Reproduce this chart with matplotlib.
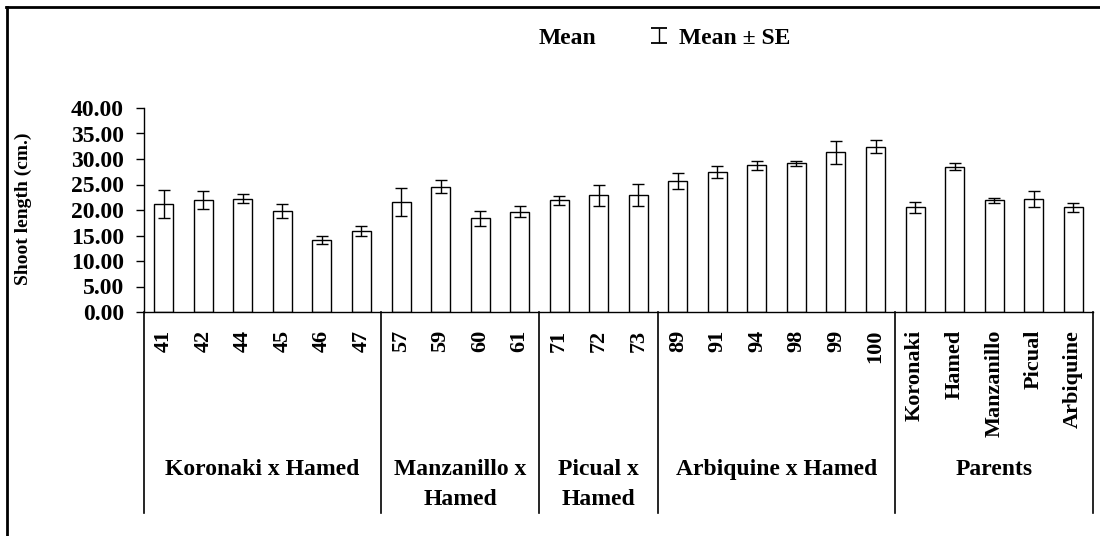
import matplotlib
matplotlib.use("Agg")
import numpy as np
import matplotlib.pyplot as plt
from matplotlib.lines import Line2D
from matplotlib.patches import Patch
from matplotlib.legend_handler import HandlerErrorbar
from matplotlib.container import ErrorbarContainer
import matplotlib.transforms as mtransforms

# ---------------- data ----------------
categories = ["41", "42", "44", "45", "46", "47",
              "57", "59", "60", "61",
              "71", "72", "73",
              "89", "91", "94", "98", "99", "100",
              "Koronaki", "Hamed", "Manzanillo", "Picual", "Arbiquine"]
means = [21.2, 21.9, 22.2, 19.8, 14.2, 15.9,
         21.5, 24.6, 18.4, 19.7,
         21.9, 22.9, 22.9,
         25.7, 27.45, 28.8, 29.2, 31.3, 32.4,
         20.5, 28.5, 21.9, 22.2, 20.5]
se = [2.75, 1.8, 0.85, 1.4, 0.8, 1.0,
      2.75, 1.3, 1.45, 1.05,
      0.85, 2.1, 2.2,
      1.6, 1.25, 0.9, 0.5, 2.3, 1.25,
      1.1, 0.7, 0.5, 1.55, 0.9]
group_names = ["Koronaki x Hamed", "Manzanillo x\nHamed", "Picual x\nHamed",
               "Arbiquine x Hamed", "Parents"]
group_sizes = [6, 4, 3, 6, 5]
y_ticks = [0, 5, 10, 15, 20, 25, 30, 35, 40]
y_label = "Shoot length (cm.)"
legend_labels = ["Mean", "Mean \u00b1 SE"]

# ---------------- style ----------------
plt.rcParams["font.family"] = ["Liberation Serif", "DejaVu Serif"]
plt.rcParams["font.weight"] = "bold"

W, H = 1100, 536
fig = plt.figure(figsize=(W / 100, H / 100), dpi=100)
ax = fig.add_axes([144 / W, 1 - 312 / H, (1093 - 144) / W, 204 / H])

x = list(range(len(categories)))
ax.bar(x, means, width=0.48, color="white", edgecolor="black", linewidth=1.0, zorder=2)
ax.errorbar(x, means, yerr=se, fmt="none", ecolor="black", elinewidth=1.0,
            capsize=4.3, capthick=1.0, zorder=3)

ax.set_xlim(-0.5, len(categories) - 0.5)
ax.set_ylim(0, 40)
ax.set_yticks(y_ticks)
ax.set_yticklabels([f"{v:.2f}" for v in y_ticks], fontsize=17, fontweight="bold")
ax.set_xticks(x)
ax.set_xticklabels(categories, rotation=90, fontsize=16, fontweight="bold", va="top")
ax.tick_params(axis="x", length=0, pad=13)
ax.tick_params(axis="y", direction="out", length=5.5, width=1.0, pad=9)

for s in ["top", "right"]:
    ax.spines[s].set_visible(False)
for s in ["left", "bottom"]:
    ax.spines[s].set_linewidth(1.0)

ax.set_ylabel(y_label, fontsize=14, fontweight="bold")
ax.yaxis.set_label_coords(-0.118, 0.505)

# group dividers and labels
trans = mtransforms.blended_transform_factory(ax.transData, ax.transAxes)
bounds = [-0.5]
for n in group_sizes:
    bounds.append(bounds[-1] + n)
for b in bounds:
    ax.plot([b, b], [0, -0.985], color="black", lw=1.2, transform=trans, clip_on=False)
for i, name in enumerate(group_names):
    cx = (bounds[i] + bounds[i + 1]) / 2
    for j, line in enumerate(name.split("\n")):
        ax.text(cx, -0.77 - 0.147 * j, line, transform=trans, ha="center", va="center",
                fontsize=17, fontweight="bold")

# legend
eb_handle = ax.errorbar([np.nan], [np.nan], yerr=[1.0], fmt="none", ecolor="black",
                        elinewidth=1.0, capsize=6.0, capthick=1.3)
mean_handle = Patch(facecolor="white", edgecolor="none")
fig.legend([mean_handle, eb_handle], legend_labels, loc="center",
           bbox_to_anchor=(650 / W, 1 - 38 / H), ncol=2, frameon=False,
           handlelength=0.72, handletextpad=0.5, columnspacing=2.3,
           prop={"weight": "bold", "size": 17},
           handler_map={ErrorbarContainer: HandlerErrorbar(yerr_size=0.32)})

# outer frame (top and left edges)
fig.add_artist(Line2D([6 / W, 1.0], [1 - 7 / H, 1 - 7 / H], color="black", lw=2.0,
                      transform=fig.transFigure))
fig.add_artist(Line2D([7 / W, 7 / W], [1 - 7 / H, 0.0], color="black", lw=2.0,
                      transform=fig.transFigure))

fig.savefig("out.png", dpi=100)
